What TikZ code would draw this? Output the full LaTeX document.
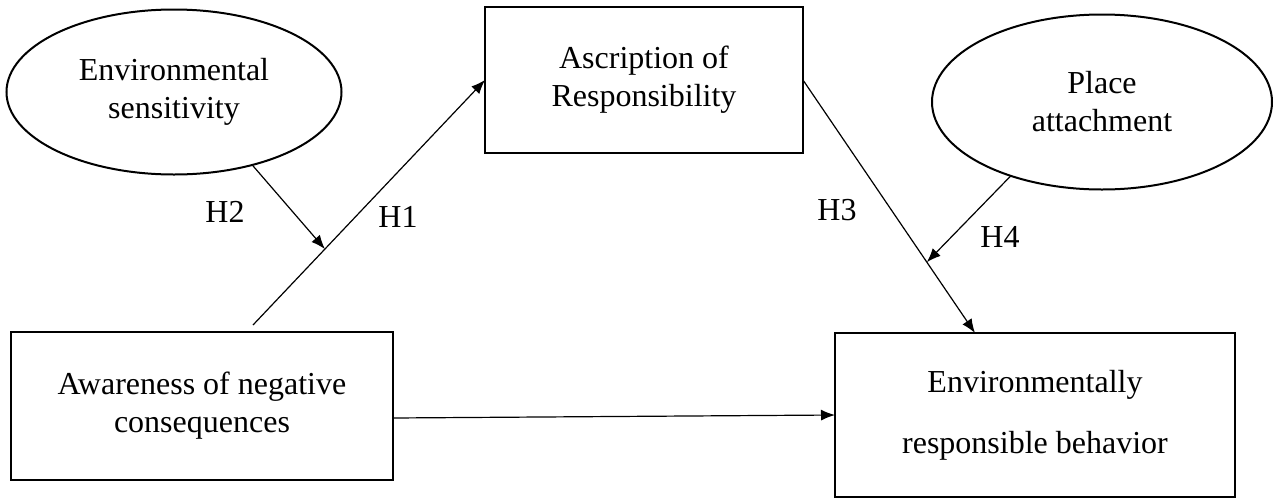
\documentclass[tikz,border=0pt]{standalone}
\usepackage{fontspec}
\setmainfont{Liberation Serif}
\usepackage{tikz}
\usetikzlibrary{arrows.meta,shapes.geometric,positioning,calc}

\begin{document}
\begin{tikzpicture}[x=0.5pt,y=-0.5pt,
        every node/.style={font=\fontsize{16}{19}\selectfont},
        block/.style={draw,rectangle,line width=1pt,align=center,outer sep=0pt},
        oval/.style={draw,ellipse,line width=1pt,align=center,outer sep=0pt,inner sep=0pt},
        path/.style={-{Latex[length=7pt,width=5.5pt]},line width=0.6pt}]
   \useasboundingbox (0,0) rectangle (1281,499);

   \node (ES) [oval,minimum width=167.5pt,minimum height=82.5pt] at (174,92) {Environmental\\sensitivity};
   \node (AR) [block,minimum width=159pt,minimum height=73pt] at (644,80) {Ascription of\\Responsibility};
   \node (PA) [oval,minimum width=170pt,minimum height=87.5pt] at (1102,102) {Place\\attachment};
   \node (AC) [block,minimum width=191pt,minimum height=74pt] at (202,406) {Awareness of negative\\consequences};
   \node (ERB) [block,minimum width=200pt,minimum height=82pt] at (1035,415) {Environmentally\\[11.5pt]responsible behavior};

   \coordinate (S1) at ([xshift=25.5pt,yshift=3.5pt]AC.north);
   \coordinate (E3) at ([xshift=-30pt]ERB.north);
   \draw[path] (S1) -- (AR.west);
   \draw[path] (AR.east) -- (E3);
   \draw[path] ([yshift=-6pt]AC.east) -- (ERB.west);

   % moderators
   \draw[path] (ES.-43) -- ($(S1)!0.31!(AR.west)$);
   \draw[path] (PA.-141) -- ($(AR.east)!0.72!(E3)$);

   \node (H1) at (398,217) {H1};
   \node (H2) at (225,212) {H2};
   \node (H3) at (837,210) {H3};
   \node (H4) at (1000,237) {H4};
\end{tikzpicture}
\end{document}
